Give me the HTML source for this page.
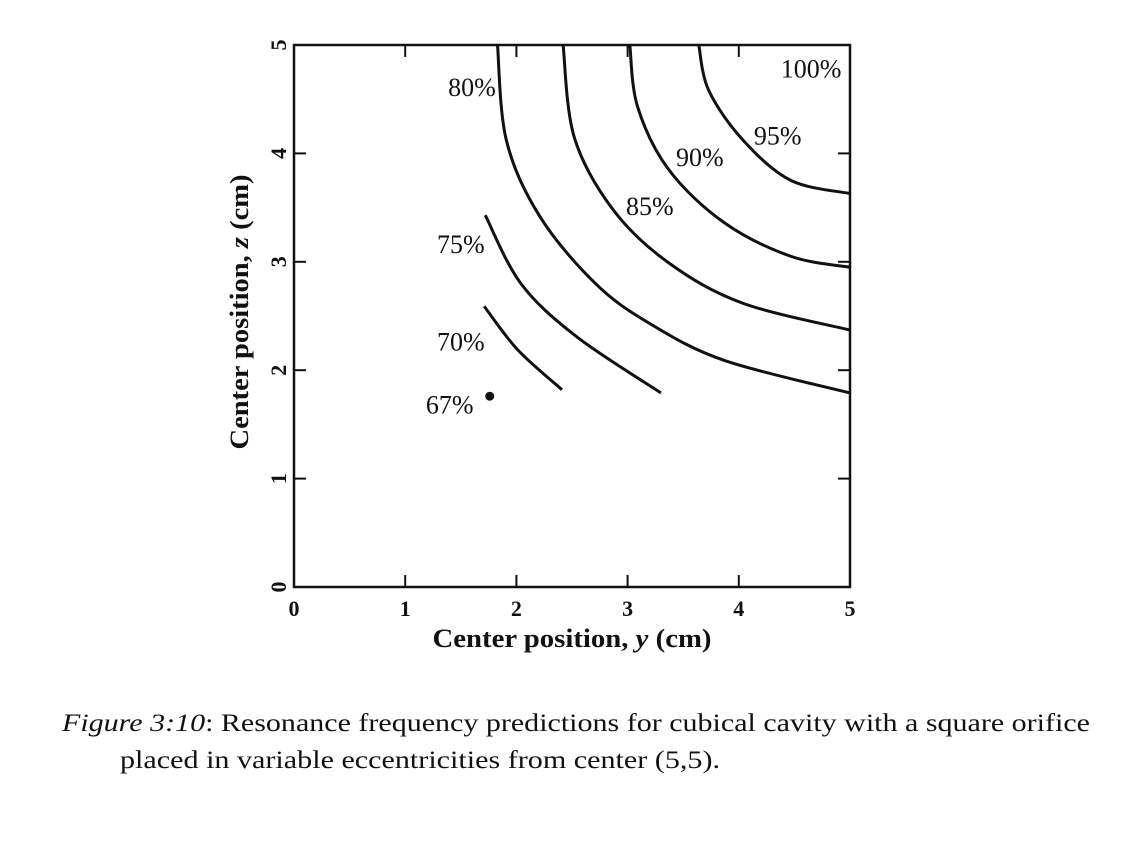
<!DOCTYPE html>
<html><head><meta charset="utf-8"><style>
body{margin:0;background:#fff;}
svg text{font-family:"Liberation Serif",serif;fill:#111;}
</style></head><body>
<svg width="1125" height="847" viewBox="0 0 1125 847">
<g id="plot"></g>
<text x="62" y="731" font-size="25" textLength="1028" lengthAdjust="spacingAndGlyphs"><tspan font-style="italic">Figure 3:10</tspan>: Resonance frequency predictions for cubical cavity with a square orifice</text>
<text x="120" y="768" font-size="25" textLength="600" lengthAdjust="spacingAndGlyphs">placed in variable eccentricities from center (5,5).</text>
</svg>
<script>
const xTicks=[0,1,2,3,4,5];
const yTicks=[0,1,2,3,4,5];
const levelNames=["80%","85%","90%","95%","75%","70%"];
const c80=[[1.83,5.0],[1.91,4.12],[2.21,3.42],[2.71,2.80],[3.20,2.43],[3.87,2.09],[5.0,1.79]];
const c85=[[2.42,5.0],[2.52,4.15],[2.87,3.48],[3.37,2.99],[4.03,2.62],[5.0,2.37]];
const c90=[[3.02,5.0],[3.09,4.43],[3.37,3.85],[3.87,3.36],[4.47,3.05],[5.0,2.95]];
const c95=[[3.64,5.0],[3.73,4.58],[4.04,4.12],[4.47,3.75],[5.0,3.63]];
const c75=[[1.72,3.43],[2.04,2.80],[2.54,2.31],[3.30,1.79]];
const c70=[[1.71,2.59],[2.01,2.19],[2.41,1.82]];
const point67=[1.76,1.76];
const labels=[["80%",1.6,4.55],["85%",3.2,3.45],["90%",3.65,3.9],["95%",4.35,4.1],["100%",4.65,4.72],["75%",1.5,3.1],["70%",1.5,2.2],["67%",1.4,1.62]];
const NS="http://www.w3.org/2000/svg";
const X0=294,X1=850,Y0=587,Y1=45;
const sx=v=>X0+(X1-X0)*v/5, sy=v=>Y0-(Y0-Y1)*v/5;
const g=document.getElementById('plot');
function mk(t,a){const e=document.createElementNS(NS,t);for(const k in a)e.setAttribute(k,a[k]);g.appendChild(e);return e;}
const frame=mk('rect',{x:X0,y:Y1,width:X1-X0,height:Y0-Y1,fill:'none',stroke:'#111','stroke-width':2.5});


xTicks.forEach(t=>{
 const x=sx(t);
 if(t>0&&t<5){
 const a=mk('line',{x1:x,y1:Y0,x2:x,y2:Y0-12,stroke:'#111','stroke-width':2});
 
 
 const b=mk('line',{x1:x,y1:Y1,x2:x,y2:Y1+12,stroke:'#111','stroke-width':2});
 
 }
 const l=mk('text',{x:x,y:Y0+29,'font-size':22,'text-anchor':'middle','font-weight':'bold'});
 l.textContent=t;
 
 
});
yTicks.forEach(t=>{
 const y=sy(t);
 if(t>0&&t<5){
 const a=mk('line',{x1:X0,y1:y,x2:X0+12,y2:y,stroke:'#111','stroke-width':2});
 
 
 const b=mk('line',{x1:X1,y1:y,x2:X1-12,y2:y,stroke:'#111','stroke-width':2});
 
 }
 const l=mk('text',{x:279,y:y,'font-size':22,'text-anchor':'middle','font-weight':'bold',transform:`rotate(-90 279 ${y}) translate(0 7)`});
 l.textContent=t;
 
 
});
function path(pts){
 const p=pts.map(d=>[sx(d[0]),sy(d[1])]);
 let s=`M${p[0][0]},${p[0][1]}`;
 for(let i=0;i<p.length-1;i++){
  const p0=p[Math.max(0,i-1)],p1=p[i],p2=p[i+1],p3=p[Math.min(p.length-1,i+2)];
  const c1=[p1[0]+(p2[0]-p0[0])/6,p1[1]+(p2[1]-p0[1])/6],c2=[p2[0]-(p3[0]-p1[0])/6,p2[1]-(p3[1]-p1[1])/6];
  s+=` C${c1[0]},${c1[1]} ${c2[0]},${c2[1]} ${p2[0]},${p2[1]}`;
 }
 return s;
}
[c80,c85,c90,c95,c75,c70].forEach((c,i)=>{
 const e=mk('path',{d:path(c),fill:'none',stroke:'#111','stroke-width':3});
 
 
});
const dot=mk('circle',{cx:sx(point67[0]),cy:sy(point67[1]),r:4.5,fill:'#111'});


labels.forEach(L=>{
 const t=mk('text',{x:sx(L[1]),y:sy(L[2])+2,'font-size':26,'text-anchor':'middle'});
 t.textContent=L[0];
 
 
});
const xt=mk('text',{x:572,y:647,'font-size':26,'text-anchor':'middle','font-weight':'bold',textLength:279,lengthAdjust:'spacingAndGlyphs'});
xt.innerHTML='Center position, <tspan font-style="italic">y</tspan> (cm)';


const yt=mk('text',{x:248,y:312,'font-size':26,'text-anchor':'middle','font-weight':'bold',textLength:275,lengthAdjust:'spacingAndGlyphs',transform:'rotate(-90 248 312)'});
yt.innerHTML='Center position, <tspan font-style="italic">z</tspan> (cm)';


</script>
</body></html>
